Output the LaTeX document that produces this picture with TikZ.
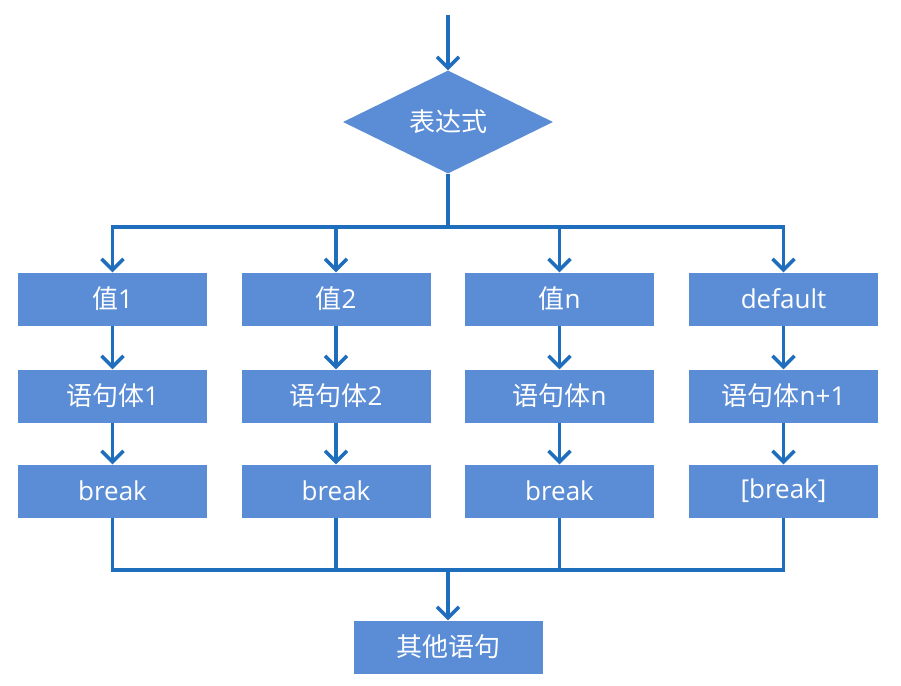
\documentclass[tikz,border=0pt]{standalone}
\usepackage{fontspec}
\setmainfont{Open Sans}
\newfontfamily\cjk{Noto Sans CJK SC}
\usetikzlibrary{arrows.meta,shapes.geometric,calc}
\definecolor{boxblue}{HTML}{5B8DD6}
\definecolor{linblue}{HTML}{1F6EBE}
\tikzset{
  box/.style={rectangle, fill=boxblue, draw=none, minimum width=189pt, minimum height=53pt, inner sep=0pt, text=white, font=\fontsize{26}{30}\selectfont},
  decision/.style={diamond, fill=boxblue, draw=none, minimum width=210pt, minimum height=103pt, inner sep=0pt, text=white, font=\fontsize{26}{30}\selectfont},
  conn/.style={draw=linblue, line width=3.5pt},
  arr/.style={conn, -{Straight Barb[length=11pt,width=22pt,line width=3.5pt]}},
}
\begin{document}
\begin{tikzpicture}[x=1pt,y=-1pt]
\useasboundingbox (0,0) rectangle (901,685);
\fill[white] (0,0) rectangle (901,685);

\node[decision] (d) at (448,122) {{\cjk 表达式}};

\node[box] (v1) at (112.5,299) {{\cjk 值}1};
\node[box] (v2) at (336,299) {{\cjk 值}2};
\node[box] (v3) at (559.5,299) {{\cjk 值}n};
\node[box] (v4) at (783.5,299) {default};

\node[box] (s1) at (112.5,396) {{\cjk 语句体}1};
\node[box] (s2) at (336,396) {{\cjk 语句体}2};
\node[box] (s3) at (559.5,396) {{\cjk 语句体}n};
\node[box] (s4) at (783.5,396) {{\cjk 语句体}n+1};

\node[box] (b1) at (112.5,491) {break};
\node[box] (b2) at (336,491) {break};
\node[box] (b3) at (559.5,491) {break};
\node[box] (b4) at (783.5,491) {[break]};

\node[box] (o) at (448,647) {{\cjk 其他语句}};

\coordinate (start) at (448,15);
\coordinate (bus1) at (448,227);
\coordinate (bus2) at (448,570);

\draw[arr] (start) -- (d.north);
\draw[conn] (d.south) -- (bus1);
\draw[arr] (bus1) -| (v1.north);
\draw[arr] (bus1) -| (v2.north);
\draw[arr] (bus1) -| (v3.north);
\draw[arr] (bus1) -| (v4.north);

\foreach \i in {1,2,3,4}{
  \draw[arr] (v\i) -- (s\i);
  \draw[arr] (s\i) -- (b\i);
}

\draw[conn] (b1.south) |- (bus2);
\draw[conn] (b4.south) |- (bus2);
\draw[conn] (b2.south) -- (b2.south |- bus2);
\draw[conn] (b3.south) -- (b3.south |- bus2);
\draw[arr] (bus2) -- (o.north);
\end{tikzpicture}
\end{document}
